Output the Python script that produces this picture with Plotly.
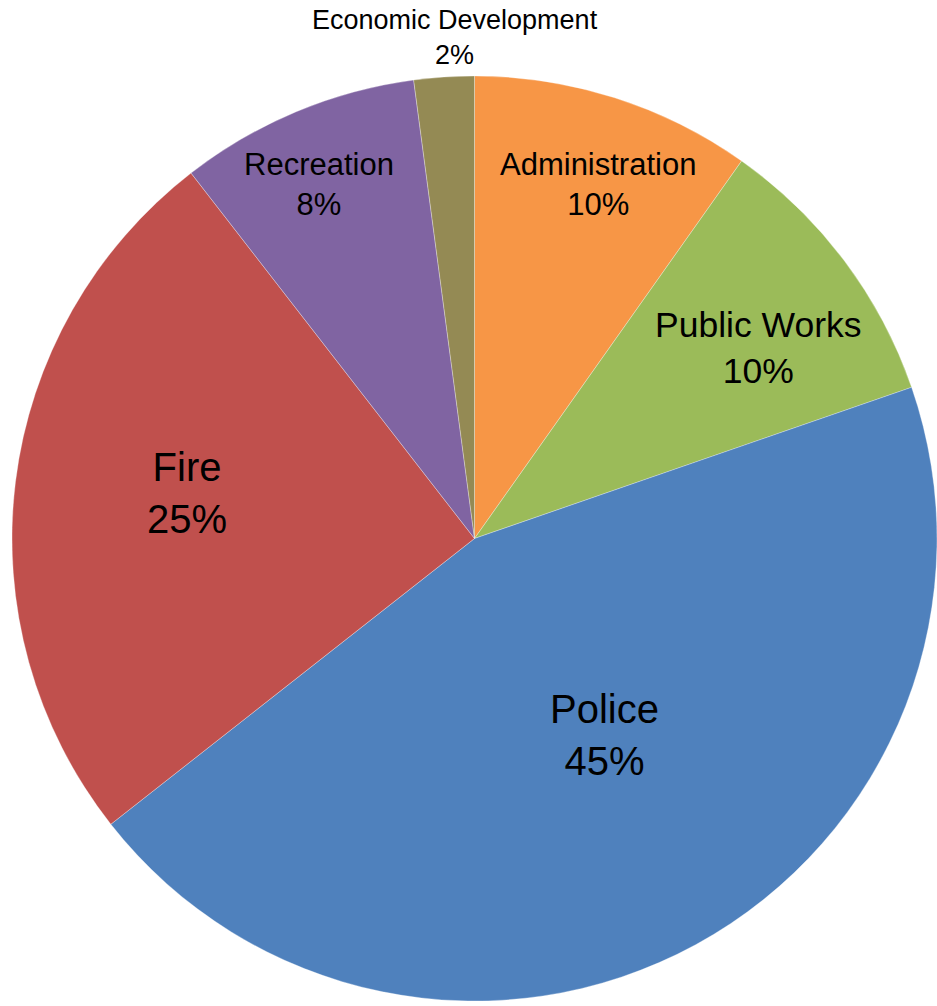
import math
import plotly.graph_objects as go

# ---- data ----
departments = ["Administration", "Public Works", "Police", "Fire", "Recreation", "Economic Development"]
shares = [9.8, 9.9, 44.7, 25.1, 8.4, 2.1]

# ---- styles ----
colors = ["#F79646", "#9BBB59", "#4F81BD", "#C0504D", "#8064A2", "#948A54"]
label_sizes = [31, 35.5, 40, 40, 31, 27]
label_radius = [0.81, 0.738, 0.51, 0.63, 0.835, 1.085]
label_angle_shift = [1.6, 3, -4.8, 2, -1, 1.6]

W, H = 937, 1006
ML, MR, MT, MB = 12, 0, 71, 0
pw, ph = W - ML - MR, H - MT - MB
R = min(pw, ph) / 2
cx = ML + pw / 2
cy = MT + ph / 2

fig = go.Figure(go.Pie(
    labels=departments,
    values=shares,
    sort=False,
    direction="clockwise",
    rotation=0,
    marker=dict(colors=colors, line=dict(color="rgba(255,255,255,0.6)", width=0.5)),
    textinfo="none",
    hoverinfo="label+percent",
    showlegend=False,
    domain=dict(x=[0, 1], y=[0, 1]),
))

total = sum(shares)
cum = 0.0
annotations = []
for name, v, fs, fr, sh in zip(departments, shares, label_sizes, label_radius, label_angle_shift):
    mid = (cum + v / 2) / total * 360 + sh
    cum += v
    th = math.radians(mid)
    px = cx + fr * R * math.sin(th)
    py = cy - fr * R * math.cos(th)
    pct = round(v / total * 100)
    annotations.append(dict(
        x=(px - ML) / pw, y=(H - MB - py) / ph, xref="paper", yref="paper",
        text=f"{name}<br>{pct}%", showarrow=False,
        xanchor="center", yanchor="middle",
        font=dict(family="Liberation Sans, Arial, sans-serif", size=fs, color="black"),
    ))

fig.update_layout(
    width=W, height=H, autosize=False,
    margin=dict(l=ML, r=MR, t=MT, b=MB),
    paper_bgcolor="white", plot_bgcolor="white",
    annotations=annotations,
)

fig.write_html("out.html")
